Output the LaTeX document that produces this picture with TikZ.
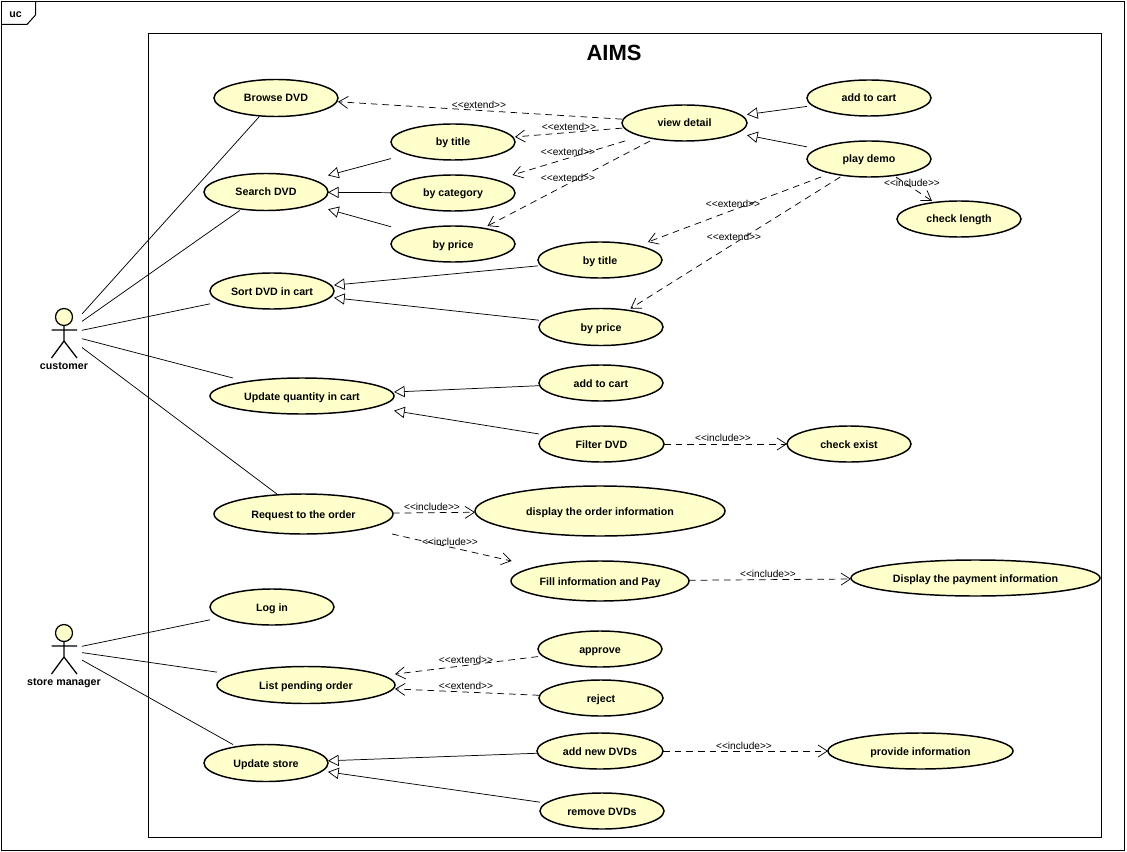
\documentclass[tikz,border=0pt]{standalone}
\usepackage{fontspec}
\setmainfont{Liberation Sans}
\usetikzlibrary{arrows.meta}
\definecolor{useCaseFill}{RGB}{255,255,204}
\newcommand{\stereoText}[1]{\textless\kern0pt\textless#1\textgreater\kern0pt\textgreater}

\begin{document}
\begin{tikzpicture}
[x=0.75pt,y=-0.75pt,
  useCaseDecorate/.style={draw,line width=1.1pt,fill=useCaseFill},%
  boxDecorate/.style={shape=rectangle,inner sep=0pt,outer sep=0pt,text height=6.4pt,text depth=0.4pt,font=\bfseries\fontsize{8}{9}\selectfont},%
  actorDecorate/.style={shape=rectangle,inner sep=0pt,outer sep=0pt,minimum width=36*0.75pt,minimum height=60*0.75pt},%
  frameDecorate/.style={line width=0.75pt},%
  assocDecorate/.style={line width=0.55pt},%
  genDecorate/.style={line width=0.55pt,-{Triangle[open,length=8pt,width=8.5pt,line width=0.55pt]}},%
  depDecorate/.style={line width=0.55pt,dash pattern=on 5pt off 3.75pt,-{Straight Barb[length=7pt,width=9pt,line width=0.55pt]}},%
  labelDecorate/.style={inner sep=0pt,font=\fontsize{7.6}{9}\selectfont}]
\useasboundingbox (0,0) rectangle (1127,852);
%% frames
\draw[frameDecorate] (1.5,1.5) rectangle (1124.5,850.5);
\draw[frameDecorate] (1.5,24.5) -- (27,24.5) -- (35.5,15) -- (35.5,1.5);
\node (tag) at (15.5,14) [boxDecorate] {uc};
\draw[frameDecorate] (148.5,33.5) rectangle (1101.5,837.5);
\node (title) at (614,53) [inner sep=0pt,font=\bfseries\fontsize{16.5}{18}\selectfont] {AIMS};
%% actors
\foreach \nodename/\x/\y/\nodetext/\labely in {
  customer/64/334/customer/365, manager/64/650/store manager/681}
{
  \node (\nodename) at (\x,\y) [actorDecorate] {};
  \node (\nodename Label) at (\x,\labely) [boxDecorate] {\nodetext};
  \draw[line width=0.95pt,fill=useCaseFill] (\x,\y-17) circle [radius=8.5];
  \draw[line width=0.95pt] (\x-12.5,\y-4) -- (\x+13,\y-4) (\x,\y-8.5) -- (\x,\y+7) (\x-12.5,\y+24) -- (\x,\y+7) -- (\x+13,\y+24);
}
%% use cases
\foreach \nodename/\x/\y/\w/\h/\nodetext in {
  browse/276/98/124/37/Browse DVD, search/266/192/124/37/Search DVD,
  byTitle/453/142/124/36/by title, byCategory/453/193/124/36/by category,
  byPrice/453/244/124/36/by price, viewDetail/684.5/123/125/36/view detail,
  addCart/869/98/124/36/add to cart, playDemo/869/159/124/36/play demo,
  checkLength/959/219/124/36/check length, sortTitle/600/260/124/36/by title,
  sortPrice/601/327/124/37/by price, sortCart/272/291/124/36/Sort DVD in cart,
  updateCart/302/396/184/36/Update quantity in cart, addCartTwo/601/383/124/36/add to cart,
  filter/601.5/444/125/36/Filter DVD, checkExist/849/444/124/36/check exist,
  request/303.5/514/179/40/Request to the order, display/600/511/250/50/display the order information,
  fillPay/600/581/178/40/Fill information and Pay, payment/975.5/578/249/36/Display the payment information,
  login/272/607/124/36/Log in, pending/306/685/178/37/List pending order,
  approve/600/649/124/36/approve, reject/601/698/124/36/reject,
  updateStore/266/763/124/37/Update store, addNew/600/751/126/36/add new DVDs,
  provide/920.5/751/185/36/provide information, remove/602/811/124/36/remove DVDs}
{
  \draw[useCaseDecorate] (\x,\y) ellipse [x radius=\w/2,y radius=\h/2];
  \node (\nodename) at (\x,\y) [boxDecorate,minimum width=\w*0.75pt,minimum height=\h*0.75pt] {\nodetext};
}
%% associations
\path
\foreach \startnode/\endnode in {
  customer/browse, customer/search, customer/sortCart, customer/updateCart, customer/request,
  manager/login, manager/pending, manager/updateStore}
{
  (\startnode) edge[assocDecorate] (\endnode)
};
%% generalizations
\path
\foreach \startnode/\endnode in {
  byTitle/search, byCategory/search, byPrice/search,
  sortTitle/sortCart, sortPrice/sortCart, addCartTwo/updateCart, filter/updateCart,
  addNew/updateStore, remove/updateStore, addCart/viewDetail, playDemo/viewDetail}
{
  (\startnode) edge[genDecorate] (\endnode)
};
%% extend and include
\path
\foreach \startnode/\endnode in {
  viewDetail/browse, viewDetail/byTitle, viewDetail/byCategory, viewDetail/byPrice,
  playDemo/sortTitle, playDemo/sortPrice, playDemo/checkLength, filter/checkExist,
  request/display, request/fillPay, fillPay/payment, approve/pending,
  reject/pending, addNew/provide}
{
  (\startnode) edge[depDecorate] (\endnode)
};
%% stereotype labels
\foreach \nodename/\x/\y/\kind in {
  e1/479/105/extend, e2/569/127/extend, e3/568/152/extend, e4/568/178/extend,
  e5/733/204/extend, e6/734/237/extend, i1/912/183/include, i2/723/438/include,
  i3/432/507/include, i4/450/542/include, i5/768/574/include,
  e7/466/660/extend, e8/466/686/extend, i6/744/746/include}
{
  \node (\nodename) at (\x,\y) [labelDecorate] {\stereoText{\kind}};
}
\end{tikzpicture}
\end{document}
